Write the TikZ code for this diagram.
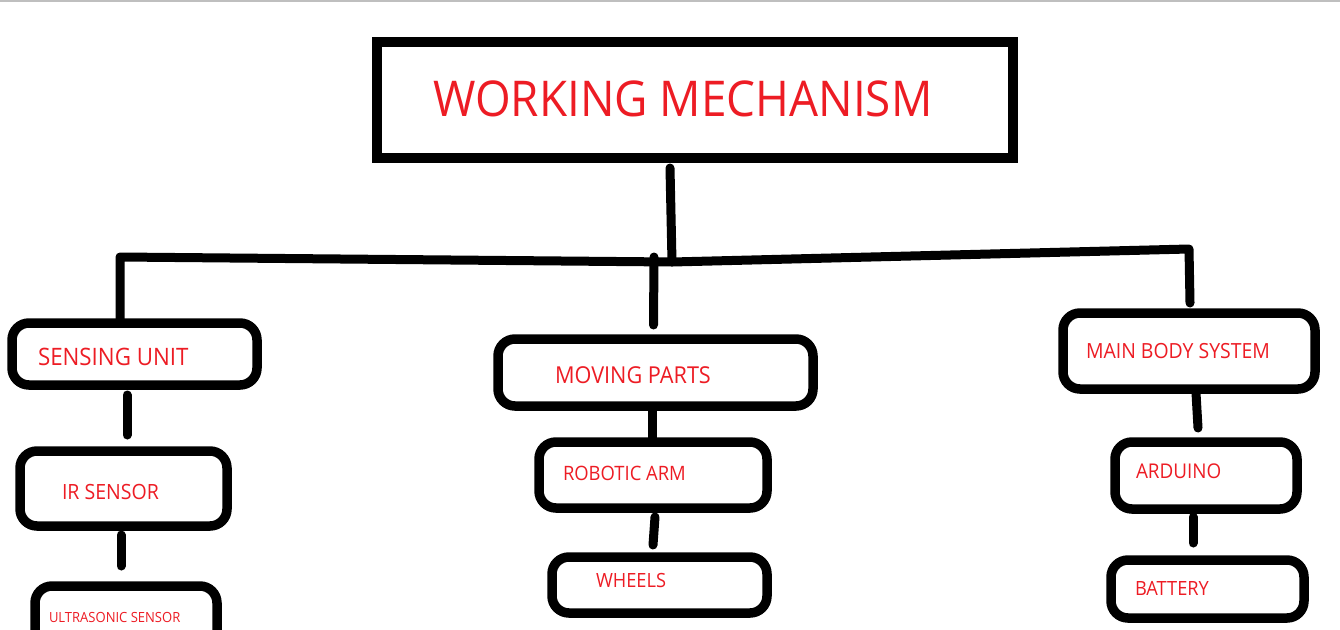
\documentclass[tikz,border=0pt]{standalone}
\usepackage{fontspec}
\setmainfont[FakeStretch=0.93]{Open Sans}
\definecolor{paintred}{RGB}{237,28,36}
\begin{document}
\begin{tikzpicture}[x=1pt,y=-1pt,
  box/.style={draw=black, line width=9.5pt, rounded corners=17pt, outer sep=0pt, inner sep=0pt},
  titlebox/.style={draw=black, line width=10pt, outer sep=0pt, inner sep=0pt},
  lbl/.style={text=paintred, anchor=base west, inner sep=0pt, outer sep=0pt},
  link/.style={line width=9pt, line cap=round, line join=round}]
\useasboundingbox (0,0) rectangle (1340,629);
\clip (0,0) rectangle (1340,629);
\fill[white] (0,0) rectangle (1340,629);
\fill[black!25] (0,0) rectangle (1340,1.5);

% boxes
\node[titlebox, minimum width=636pt, minimum height=116pt] (title) at (695,100) {};
\node[box, minimum width=245pt, minimum height=62pt] (su) at (134.5,354) {};
\node[box, minimum width=207pt, minimum height=75pt] (ir) at (123.5,488.5) {};
\node[box, minimum width=182pt, minimum height=65pt] (us) at (126,618.5) {};
\node[box, minimum width=315pt, minimum height=67pt] (mp) at (655.5,372.5) {};
\node[box, minimum width=228pt, minimum height=66pt] (ra) at (653,475) {};
\node[box, minimum width=215pt, minimum height=56pt] (wh) at (659.5,585) {};
\node[box, minimum width=252pt, minimum height=76pt] (mb) at (1189,351) {};
\node[box, minimum width=182pt, minimum height=67pt] (ar) at (1206,475.5) {};
\node[box, minimum width=193pt, minimum height=58pt] (ba) at (1207.5,589) {};

% labels
\node[lbl, font=\fontsize{49.3}{59}\selectfont] (tTitle) at (433,116) {WORKING MECHANISM};
\node[lbl, font=\fontsize{24}{28}\selectfont] (tSu) at (38,365) {SENSING UNIT};
\node[lbl, font=\fontsize{21}{25}\selectfont] (tIr) at (62,499) {IR SENSOR};
\node[lbl, font=\fontsize{14}{17}\selectfont] (tUs) at (49,622) {ULTRASONIC SENSOR};
\node[lbl, font=\fontsize{23.3}{28}\selectfont] (tMp) at (555,383) {MOVING PARTS};
\node[lbl, font=\fontsize{19.8}{24}\selectfont] (tRa) at (563,480) {ROBOTIC ARM};
\node[lbl, font=\fontsize{19.6}{24}\selectfont] (tWh) at (596,587) {WHEELS};
\node[lbl, font=\fontsize{20.9}{25}\selectfont] (tMb) at (1086,358) {MAIN BODY SYSTEM};
\node[lbl, font=\fontsize{20.3}{24}\selectfont] (tAr) at (1136,478) {ARDUINO};
\node[lbl, font=\fontsize{19.6}{24}\selectfont] (tBa) at (1135,595) {BATTERY};

% tree connectors
\coordinate (J) at (672,262);
\draw[link] ([xshift=-25pt,yshift=-10pt]title.south) -- (J);
\draw[link] ([xshift=-14.5pt]su.north) -- (120,257) -- (J) -- (1189,249) -- ([xshift=1pt,yshift=10pt]mb.north);
\draw[link] (654,257) -- ([xshift=-2pt,yshift=14pt]mp.north);

% column connectors
\draw[link] ([xshift=-7.5pt,yshift=-10pt]su.south) -- ([xshift=3.5pt,yshift=16pt]ir.north);
\draw[link] ([xshift=-2.5pt,yshift=-9pt]ir.south) -- ([xshift=-5pt,yshift=20pt]us.north);
\draw[link] ([xshift=-3.5pt,yshift=-3pt]mp.south) -- ([xshift=-1pt,yshift=3pt]ra.north);
\draw[link] ([xshift=2pt,yshift=-9pt]ra.south) -- ([xshift=-6.5pt,yshift=12pt]wh.north);
\draw[link] ([xshift=7pt,yshift=-4pt]mb.south) -- ([xshift=-8pt,yshift=14pt]ar.north);
\draw[link] ([xshift=-13pt,yshift=-8pt]ar.south) -- ([xshift=-14.5pt,yshift=17pt]ba.north);
\end{tikzpicture}
\end{document}
